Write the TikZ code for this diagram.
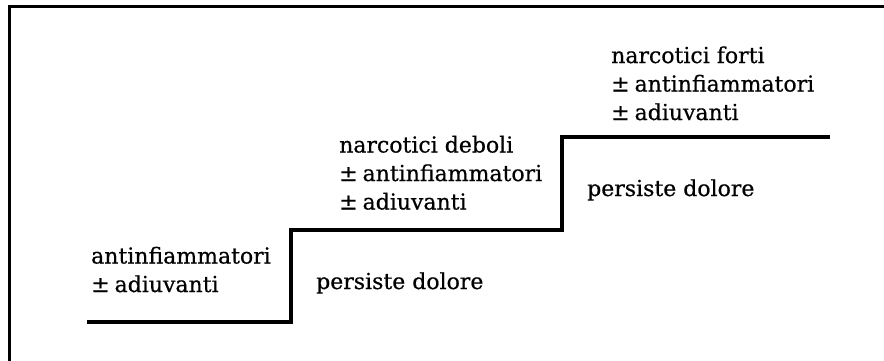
\documentclass[tikz,border=0pt]{standalone}
\usepackage{fontspec}
\setmainfont{DejaVu Serif}
\newfontfamily\lblfont{DejaVu Serif}[FakeBold=0.6]
\newcommand\pmsp{±\kern5bp}
\begin{document}
\begin{tikzpicture}[x=1bp,y=-1bp,
  lbl/.style={anchor=base west,inner sep=0pt,align=left,
    font=\lblfont\fontsize{22bp}{28.5bp}\selectfont},
  stair/.style={line width=3.2bp,line join=miter},
  frame/.style={line width=3bp}]
\useasboundingbox (0,0) rectangle (884,360);
\draw[frame] (9.5,370) -- (9.5,6) -- (890,6);
\coordinate (s0) at (87,322);
\coordinate (s1) at (291,322);
\coordinate (s2) at (291,230);
\coordinate (s3) at (562,230);
\coordinate (s4) at (562,137);
\coordinate (s5) at (830,137);
\draw[stair] (s0) -- (s1) -- (s2) -- (s3) -- (s4) -- (s5);
\node[lbl] (g1) at (91,292) {antinfiammatori\\\pmsp adiuvanti};
\node[lbl] (p1) at (316,289) {persiste dolore};
\node[lbl] (g2) at (339,209.5) {narcotici deboli\\\pmsp antinfiammatori\\\pmsp adiuvanti};
\node[lbl] (p2) at (587,196) {persiste dolore};
\node[lbl] (g3) at (611,120) {narcotici forti\\\pmsp antinfiammatori\\\pmsp adiuvanti};
\end{tikzpicture}
\end{document}
